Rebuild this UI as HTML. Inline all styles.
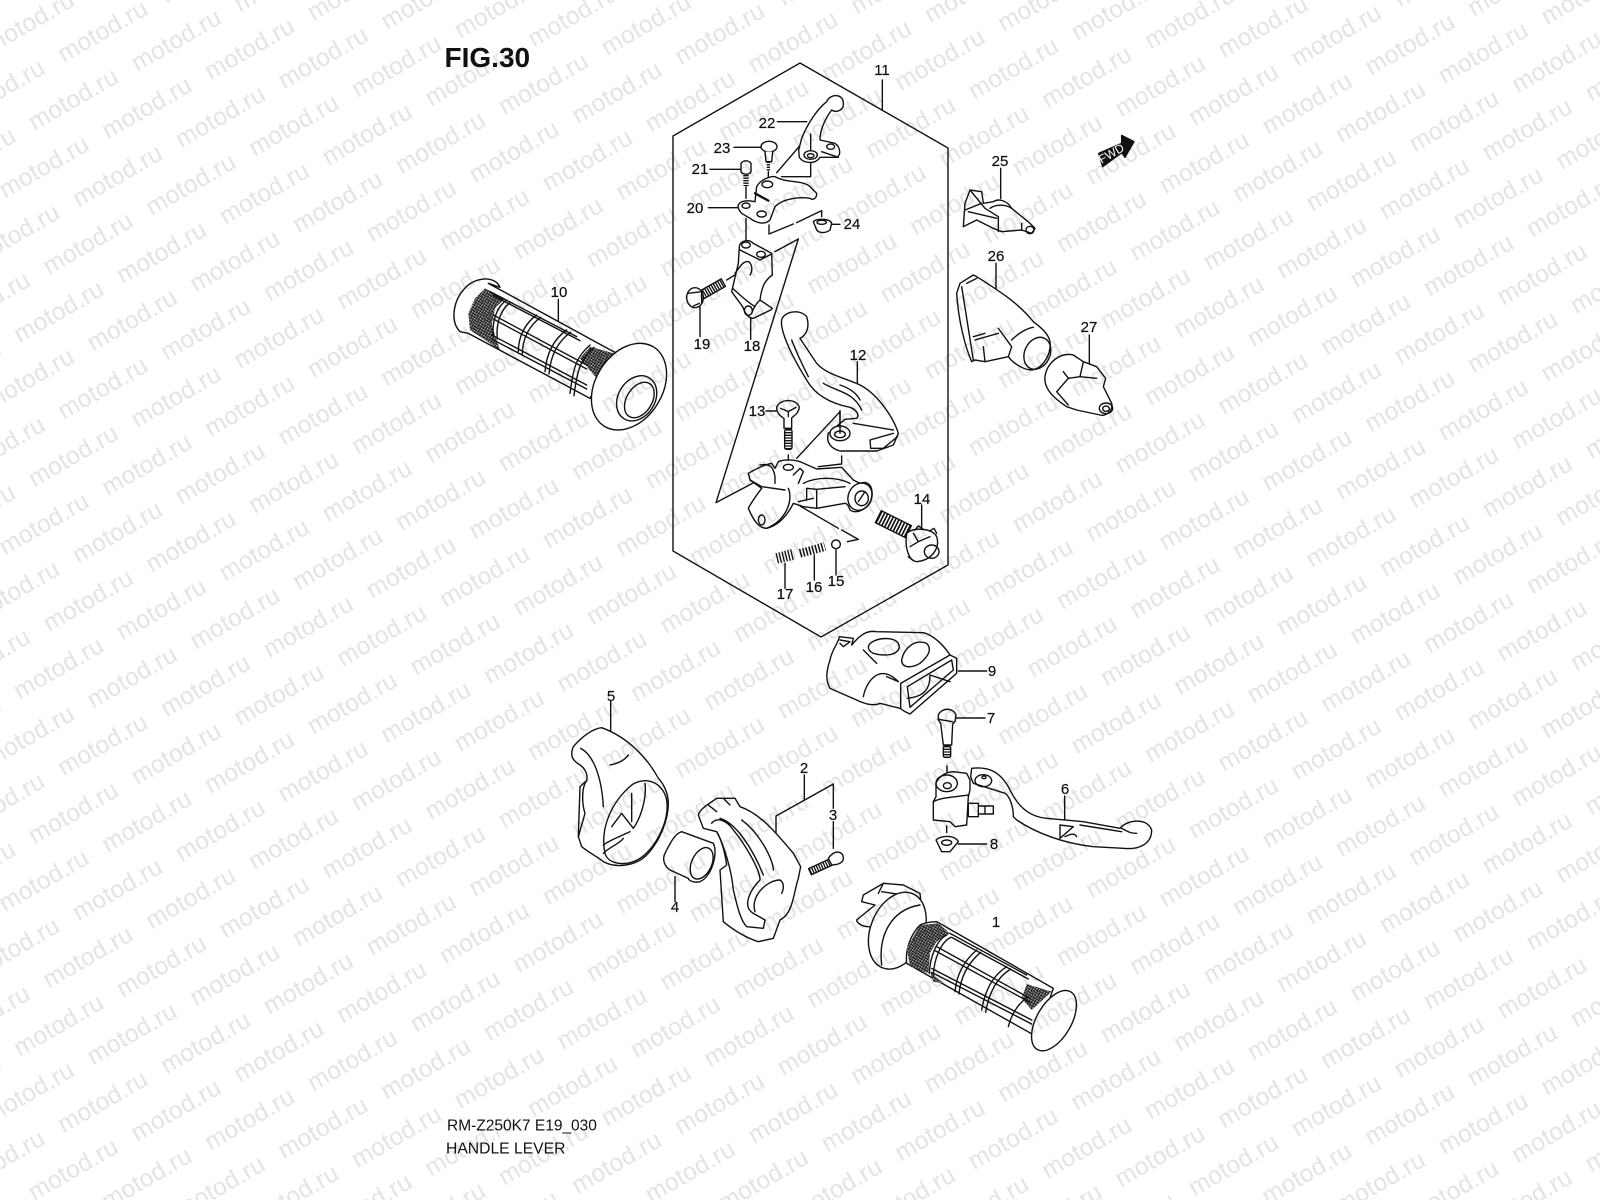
<!DOCTYPE html>
<html><head><meta charset="utf-8"><title>FIG.30 Handle Lever</title>
<style>
html,body{margin:0;padding:0;background:#fff}
svg{display:block}
.l{font-family:"Liberation Sans",sans-serif;font-size:15px;fill:#111;text-anchor:middle;stroke:#111;stroke-width:.2}
.p{fill:none;stroke:#111;stroke-linecap:round;stroke-linejoin:round;stroke-width:4.2}
.f{fill:#fff}
.p .t{fill:none;stroke:#111;stroke-linecap:butt}
</style></head><body>
<svg xmlns="http://www.w3.org/2000/svg" width="1600" height="1200" viewBox="0 0 1600 1200">
<defs>
<pattern id="wm" patternUnits="userSpaceOnUse" width="118.6" height="88.36" patternTransform="rotate(-29.9) translate(0,5)">
<g font-family="Liberation Sans, sans-serif" font-size="24.5" letter-spacing=".3" fill="#e3e3e3">
<text x="24.1" y="81.5">motod.ru</text><text x="-94.5" y="81.5">motod.ru</text>
<text x="83.4" y="37.3">motod.ru</text><text x="-35.2" y="37.3">motod.ru</text>
</g></pattern>
<pattern id="mesh" patternUnits="userSpaceOnUse" width="8" height="8" patternTransform="rotate(28)">
<rect width="8" height="8" fill="#fff"/><path d="M0 0H8M0 4H8M0 0V8M4 0V8" stroke="#111" stroke-width="2.6"/>
</pattern>
</defs>
<rect width="1600" height="1200" fill="#fff"/>

<text x="444.5" y="66.8" font-family="Liberation Sans,sans-serif" font-weight="700" font-size="28" fill="#111">FIG.30</text>
<text x="447" y="1130.7" font-family="Liberation Sans,sans-serif" font-size="15.5" fill="#111">RM-Z250K7 E19_030</text>
<text x="446" y="1153.3" font-family="Liberation Sans,sans-serif" font-size="15.7" fill="#111">HANDLE LEVER</text>

<polygon points="800,63 948,148 948,565 821,637 673,551 673,136" fill="none" stroke="#111" stroke-width="1.4"/>

<!-- upper frame parts -->
<g class="p" transform="translate(660,50) scale(.33333)">
<path d="M667 90V180M352 215H440M222 292H305M150 358H240M145 473H235M515 523H540M120 770V860M272 800V868"/>
<path d="M350 368L450 252M452 252V300M452 340V380H365M325 365V385M258 410V445M258 505V572M327 525V552L400 522M410 518L485 482V500M345 605L415 567M200 690L265 650"/>
<path class="f" d="M500 155C510 130 550 130 550 160C552 180 530 190 515 180C500 200 480 235 480 270L525 280C540 290 545 315 530 322H480C465 345 430 340 418 322L416 300L425 265C445 215 475 175 500 155Z"/>
<ellipse cx="452" cy="315" rx="20" ry="13"/><ellipse cx="452" cy="317" rx="10" ry="6"/><ellipse cx="512" cy="290" rx="12" ry="8"/><path d="M485 305L535 322M452 252V300"/>
<path class="f" d="M235 465C240 452 262 450 285 455L290 410C300 390 330 378 345 380C380 400 430 390 450 410L470 430C470 445 460 452 450 445C420 440 370 445 345 470L330 510C315 525 290 520 270 505L245 490C235 480 233 470 235 465Z"/>
<ellipse cx="258" cy="467" rx="12" ry="8"/><ellipse cx="305" cy="492" rx="14" ry="9"/><ellipse cx="322" cy="403" rx="16" ry="10"/>
<path d="M285 430L325 452" stroke-width="7"/>
<path class="f" d="M243 340V365C250 375 268 375 273 365V340C265 330 250 330 243 340Z"/>
<path class="t" d="M258 375V408" stroke-width="16" stroke-dasharray="4 3.5"/>
<ellipse class="f" cx="327" cy="290" rx="24" ry="16"/><path class="f" d="M315 305L318 335H335L338 305"/>
<path class="t" d="M325 335V362" stroke-width="10" stroke-dasharray="4 3.5"/>
<path class="f" d="M460 515C470 505 510 505 515 520L510 540C495 552 475 548 470 540Z"/><ellipse cx="485" cy="517" rx="14" ry="6"/>
<path class="f" d="M238 590C240 572 265 565 280 580L335 610L337 675C315 690 305 710 300 750L337 775L332 780L280 805C265 805 255 790 248 770L215 725L235 640Z"/>
<ellipse cx="258" cy="585" rx="13" ry="9"/><ellipse cx="303" cy="613" rx="13" ry="9"/>
<path d="M240 600L300 630L335 612M225 670C240 650 250 632 265 635C275 640 280 660 270 675M218 715C240 735 260 755 285 770M300 750C290 760 285 765 275 790"/>
<ellipse cx="265" cy="782" rx="12" ry="14"/>
<path class="t" d="M125 735L190 698" stroke-width="26" stroke-dasharray="4 3.5"/>
<polygon points="118.6,723.7 183.6,686.7 196.4,709.3 131.4,746.3"/>
<ellipse class="f" cx="105" cy="743" rx="25" ry="30"/><path d="M85 730L125 725L125 760M100 768L118 760"/>
</g>

<!-- lower frame parts -->
<g class="p" transform="translate(660,320) scale(.33333)">
<path d="M318 273H348M592 125V192M785 555V630M528 690V765M463 705V780M375 730V805"/>
<path d="M415 -243L168 548L300 478M385 405V430M410 415L540 275V325M545 408V432L475 440M420 558L535 625M545 630L595 658L562 665"/>
<path class="f" d="M265 460C290 445 310 435 335 430L345 445L355 425C370 418 400 418 420 425L470 447L545 442L580 480L600 490C625 480 640 500 635 530C630 565 590 585 570 570C565 555 560 550 555 550L470 565L430 560L400 550C385 580 360 615 320 625C295 625 280 600 265 565C275 545 290 525 305 505L270 480Z"/>
<path d="M270 480L305 500L375 510M300 435C330 430 340 440 345 470V490M385 505C400 540 380 600 320 625M400 465L420 445L430 455L415 490M430 490C470 470 530 470 570 490M440 505V540M440 505L470 508V565M470 508L555 500M415 545L460 535"/>
<ellipse cx="385" cy="442" rx="15" ry="9"/><ellipse cx="305" cy="600" rx="10" ry="15"/>
<ellipse cx="600" cy="530" rx="35" ry="42" transform="rotate(25 600 530)"/><ellipse cx="605" cy="535" rx="20" ry="22"/><path d="M595 545L615 515"/>
<path class="f" d="M365 0C370 -25 420 -35 440 -10C450 20 440 45 420 55L470 130C500 165 560 175 600 195C650 220 700 290 715 340L700 375L650 393H540C510 385 498 365 505 340L555 298L590 295C600 285 590 270 570 262C510 250 465 225 440 180C390 100 360 30 365 0Z"/>
<path d="M395 60C410 100 430 140 445 170M490 190C530 215 580 215 605 270M540 195C570 205 590 220 600 240M580 310L700 330M630 360L700 340M630 360L632 385H670L712 350"/>
<ellipse cx="540" cy="340" rx="30" ry="22" class="f"/><ellipse cx="540" cy="343" rx="16" ry="10"/><path d="M540 272V340"/>
<path class="f" d="M350 262C360 235 410 235 418 262C415 285 395 290 395 295V325H372V295C355 285 350 275 350 262Z"/><path d="M362 265L385 275L408 262M385 275V290"/>
<path class="t" d="M385 328V388" stroke-width="22" stroke-dasharray="4 4"/>
<rect x="374" y="328" width="22" height="60" rx="6"/>
<circle cx="528" cy="673" r="13" class="f"/>
<path class="t" d="M420 700L495 680" stroke-width="26" stroke-dasharray="4.5 5"/>
<path class="t" d="M350 715L400 703" stroke-width="32" stroke-dasharray="4 5"/>
<path class="t" d="M655 590L745 635" stroke-width="40" stroke-dasharray="5 4.5"/>
<polygon points="664,572 754,617 736,653 646,608"/>
<path class="f" d="M740 640C760 620 820 625 830 650C840 680 820 720 770 725C740 720 735 670 740 640Z"/><ellipse cx="815" cy="695" rx="22" ry="20"/><path d="M760 640L775 665L750 680M775 665L810 650M765 630L775 618L790 628M810 632L822 625L830 640M745 710L760 722"/>
</g>

<!-- grip 10 -->
<g class="p" transform="translate(430,250) scale(.33333)">
<path class="f" d="M210 112C195 75 130 80 100 120C70 155 60 215 90 245L115 250L480 445L560 310L175 100Z"/>
<polygon points="165,115 225,145 195,175 185,225 210,300 120,240 115,190 135,145" fill="url(#mesh)" stroke="none"/>
<polygon points="480,290 558,312 500,385 450,325" fill="url(#mesh)" stroke="none"/>
<path d="M230 150C200 170 185 215 190 260M242 157C212 177 197 222 202 267M320 195C285 220 265 260 265 305M332 202C297 227 277 267 277 312M410 240C375 265 350 305 345 365M422 247C387 272 362 312 357 372M480 285C440 320 430 350 420 430M492 292C452 327 442 357 432 437"/>
<path d="M180 125L440 260M190 137L450 272M190 195L470 345M190 207L470 357M185 255L470 405M185 267L470 417"/>
<ellipse class="f" cx="597" cy="410" rx="140" ry="100" transform="rotate(-58 597 410)"/>
<ellipse cx="620" cy="445" rx="72" ry="55" transform="rotate(-58 620 445)"/>
<ellipse cx="628" cy="450" rx="58" ry="38" transform="rotate(-58 628 450)"/>
<path d="M385 148V215"/>
</g>
<text class="l" x="559" y="297">10</text>

<!-- parts 5,4,2,3 -->
<g class="p" transform="translate(560,690) scale(.33333)">
<path d="M733 255V327M648 378L820 282V355M648 378V430M820 395V475M345 560V635M152 35V125"/>
<path class="f" d="M125 113C100 115 65 140 40 170C30 195 35 210 60 225C75 235 85 255 80 272L60 290L55 440L65 470C90 490 120 505 130 515C165 535 230 530 265 490C300 450 325 390 325 340C325 310 310 280 295 265C260 200 200 140 125 113Z"/>
<path d="M135 490C120 420 150 340 215 285C260 255 310 280 320 330C330 400 280 480 240 505C200 530 145 525 135 490ZM62 175C100 195 125 260 130 350M150 225C175 220 195 210 205 195M215 310V395M185 370L155 410M185 370L220 415M255 280C260 320 245 380 220 415M130 465C150 450 180 440 210 425M130 490C150 470 180 460 190 445M80 272C65 290 65 340 75 370L55 440"/>
<path class="f" d="M315 490C330 460 345 430 365 425L460 460C475 490 455 560 420 575C400 580 385 570 385 565L330 540C315 530 305 510 315 490Z"/>
<ellipse cx="425" cy="520" rx="30" ry="50" transform="rotate(25 425 520)"/>
<path class="f" d="M415 375C420 355 450 340 470 325H525L540 350C600 370 650 430 700 490L722 530L715 565C700 610 700 670 660 690L640 745L595 755C560 745 520 720 490 695L480 540L500 525C495 490 485 450 470 425L430 415Z"/>
<path d="M455 400C470 380 500 390 520 420C560 470 600 540 600 570C570 600 545 650 580 670L615 690L610 715L560 710C540 690 530 640 520 600C515 540 490 460 470 425M585 665C570 620 620 570 660 570C675 580 670 600 665 610M545 390C600 430 640 510 640 540M480 385C530 400 580 480 610 555M445 345L470 365M490 325L510 345"/>
<path class="t" d="M750 545L815 515" stroke-width="20" stroke-dasharray="4 3.5"/>
<polygon points="745.8,535.9 810.8,505.9 819.2,524.1 754.2,554.1"/>
<path class="f" d="M805 505C820 480 850 480 850 505C850 520 830 525 815 525Z"/>
</g>

<!-- parts 9,7,6,8 -->
<g class="p" transform="translate(830,620) scale(.33333)">
<path class="f" d="M0 120C5 90 25 70 28 50L70 55L65 75C90 45 110 30 140 35L280 38C310 45 340 75 360 105L380 115V160L240 282L225 275L210 265L150 250C130 260 100 250 80 240L0 205C-15 180 -10 150 0 120Z"/>
<path d="M30 60L60 65L40 80L30 70M212 190L360 105M212 190V265M232 200L365 120L370 150L240 262L232 200M300 165L360 185M300 165C300 210 280 230 232 235M100 90L140 130M170 170L205 185M205 185C150 130 110 180 100 230"/>
<path class="f" d="M115 80C120 55 190 45 205 70C215 90 195 105 165 105C140 105 115 100 115 80Z"/>
<path class="f" d="M215 120C220 90 250 55 290 70C305 85 300 105 270 130C245 145 215 145 215 120Z"/>
<path d="M385 153H470M380 294H465M704 528V600M385 672H470M351 438V490M350 618V638"/>
<path class="f" d="M325 285C335 262 370 262 378 285L375 305L368 312L365 375H340L332 310L325 300Z"/><path d="M325 298L368 305"/>
<path class="t" d="M351 378V412" stroke-width="22" stroke-dasharray="4 4"/>
<rect x="340" y="378" width="22" height="34" rx="5"/>
<path class="f" d="M318 490C325 470 350 455 370 455L410 460L420 480V510L415 530L410 615L375 620L360 605L310 600V545L318 530Z"/>
<ellipse cx="350" cy="490" rx="32" ry="25"/><ellipse cx="352" cy="497" rx="12" ry="9"/><path d="M310 545C340 530 390 530 415 525"/>
<path class="f" d="M425 445C470 440 510 450 540 510C560 550 590 590 650 595L760 605L870 625C890 600 950 590 965 630C965 670 930 690 880 685L790 680C700 670 620 640 560 600L550 590C550 560 540 530 525 520L430 490L422 470Z"/>
<ellipse cx="460" cy="482" rx="25" ry="18"/><ellipse cx="462" cy="472" rx="6" ry="4"/>
<path d="M690 615V655L730 620L690 615M705 650C725 640 735 640 740 650M875 625C895 635 900 640 920 640M750 615L875 635"/>
<path class="f" d="M415 550H445V590H415ZM445 558H490V582H445Z"/><path d="M465 558V582"/>
<path class="f" d="M318 660C335 645 375 645 385 665L360 695H335Z"/><ellipse cx="350" cy="668" rx="15" ry="8"/>
</g>

<!-- grip 1 -->
<g class="p" transform="translate(840,860) scale(.33333)">
<path class="f" d="M85 200C70 200 50 190 50 180L105 135L65 125L70 105L130 70L190 75L240 100L250 200Z"/>
<path d="M130 70L115 100M125 95L190 105"/>
<ellipse class="f" cx="172" cy="212" rx="120" ry="80" transform="rotate(-68 172 212)"/>
<path d="M125 315C115 230 150 150 240 135"/>
<path class="f" d="M240 195C250 190 270 185 290 185L640 385L590 530L200 310C195 265 215 220 240 195Z"/>
<polygon points="240,195 295,190 330,220 290,245 270,280 265,340 210,320 200,265" fill="url(#mesh)" stroke="none"/>
<polygon points="560,372 635,395 575,450 545,415" fill="url(#mesh)" stroke="none"/>
<polygon points="270,335 310,370 280,365" fill="url(#mesh)" stroke="none"/>
<path d="M320 225C290 240 270 290 268 340M332 232C302 247 282 297 280 347M410 270C375 300 350 340 345 395M422 277C387 307 362 347 357 402M500 320C460 345 435 390 425 450M512 327C472 352 447 397 437 457M565 410C535 430 515 460 505 500"/>
<path d="M330 220L560 345M335 232L565 357M290 260L570 415M285 272L570 427M275 325L575 480M275 337L575 492"/>
<ellipse class="f" cx="642" cy="482" rx="100" ry="52" transform="rotate(-60 642 482)"/>
</g>
<text class="l" x="996" y="927">1</text>

<!-- parts 25,26,27,FWD -->
<g class="p" transform="translate(940,120) scale(.33333)">
<path d="M182 145V235M168 430V512M448 645V730"/>
<path class="f" d="M90 210L75 250L70 320L110 300L160 325L185 335L245 330L275 340L285 325L270 310L215 265C200 240 175 235 160 245L130 250L125 215Z"/>
<path d="M90 210L135 265L175 290V335M75 270L125 250M85 275L170 295M150 265C170 250 200 255 215 265M245 310V330"/>
<ellipse cx="270" cy="330" rx="12" ry="11"/>
<path class="f" d="M100 465L60 490L50 520C55 600 75 680 95 725L105 720L135 725L205 710C220 730 250 750 275 750C310 745 335 700 330 665C325 640 300 620 280 605C240 555 190 520 110 470Z"/>
<ellipse cx="292" cy="700" rx="38" ry="50" transform="rotate(25 292 700)"/>
<path d="M65 500L100 720M80 490L110 475M100 650L135 640M105 660L175 640M175 625L215 680L205 710M215 660C235 640 260 625 280 622M130 680L135 725"/>
<path class="f" d="M315 770C320 730 360 695 400 705L430 725L470 740L497 775L490 800L515 850C520 870 500 890 480 885L410 870L380 860C350 840 310 810 315 770Z"/>
<ellipse cx="498" cy="865" rx="20" ry="16"/><ellipse cx="498" cy="866" rx="10" ry="8"/>
<path d="M370 755L385 775L350 815L385 855M385 775L420 770L430 725M420 770L470 775"/>
<polygon points="476,100 545,70 545,46 582,65 555,112 545,98 488,140" fill="#111"/>
<text x="520" y="111" transform="rotate(-30 520 111)" text-anchor="middle" font-family="Liberation Sans,sans-serif" font-size="36" fill="#fff" stroke="none">FWD</text>
</g>

<g>
<text class="l" x="882" y="75">11</text><text class="l" x="767" y="128">22</text><text class="l" x="722" y="153">23</text><text class="l" x="700" y="174">21</text><text class="l" x="695" y="213">20</text><text class="l" x="852" y="229">24</text><text class="l" x="702" y="349">19</text><text class="l" x="752" y="351">18</text>
<text class="l" x="858" y="360">12</text><text class="l" x="757" y="416">13</text><text class="l" x="922" y="504">14</text><text class="l" x="836" y="586">15</text><text class="l" x="814" y="592">16</text><text class="l" x="785" y="599">17</text>
<text class="l" x="611" y="701">5</text><text class="l" x="804" y="773">2</text><text class="l" x="833" y="820">3</text><text class="l" x="675" y="912">4</text>
<text class="l" x="992" y="676">9</text><text class="l" x="991" y="723">7</text><text class="l" x="1065" y="794">6</text><text class="l" x="994" y="849">8</text>
<text class="l" x="1000" y="166">25</text><text class="l" x="996" y="261">26</text><text class="l" x="1089" y="332">27</text>
</g>

<rect width="1600" height="1200" fill="url(#wm)" style="mix-blend-mode:multiply"/>
</svg>
</body></html>
